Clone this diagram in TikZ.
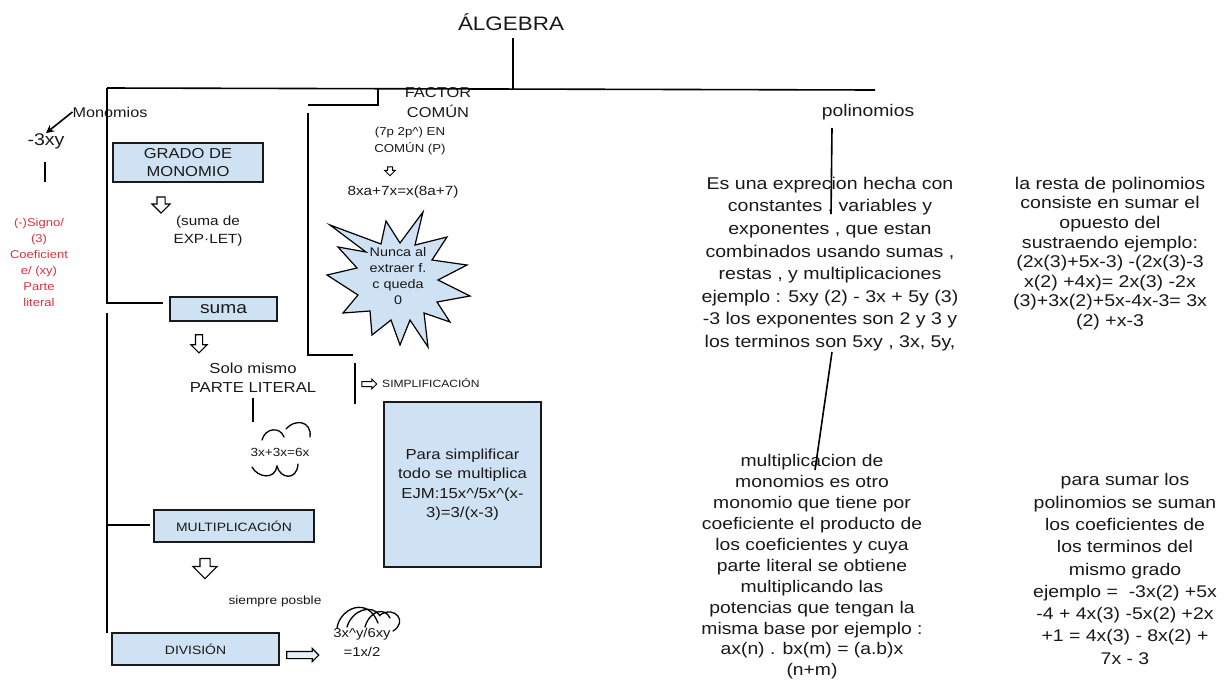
\documentclass[tikz,border=0pt]{standalone}
\usepackage{fontspec}
\setmainfont{Liberation Sans}[FakeStretch=1.15]
\usetikzlibrary{shapes.arrows,arrows.meta}
\definecolor{boxblue}{RGB}{207,226,243}
\definecolor{inkgray}{RGB}{25,25,25}
\definecolor{redtxt}{RGB}{225,50,60}
\newcommand\myfs[2]{\fontsize{#1}{#2}\selectfont}
\begin{document}
\begin{tikzpicture}[x=1pt,y=-1pt,
  txt/.style={inner sep=0pt, align=center, text=inkgray},
  bluebox/.style={draw=inkgray, fill=boxblue, line width=1.6pt, inner sep=0pt, align=center, text=inkgray},
  link/.style={draw=black, line width=1.6pt},
  hollow/.style={single arrow, draw=black, fill=white, line width=1.1pt, inner xsep=0pt, single arrow head indent=0pt},
  curl/.style={draw=black, line width=1.3pt, line cap=round}]
\useasboundingbox (0,0) rectangle (1231,691);
\fill[white] (0,0) rectangle (1231,691);

% ---- title and main branch ----
\node[txt, font=\myfs{19.5}{22}] (title) at (511,22) {ÁLGEBRA};
\coordinate (ttop) at (513,38);
\coordinate (tbot) at (513,89);
\coordinate (hl) at (107,88);
\coordinate (hr) at (875,90);
\draw[link] (ttop) -- (tbot);

% ---- Monomios column ----
\node[txt, font=\myfs{14.1}{17}] (monomios) at (110,112) {Monomios};
\node[txt, font=\myfs{17}{20}] (m3xy) at (46,141) {-3xy};
\draw[link, -{Stealth[length=8pt,width=8pt]}] (monomios.west) -- (m3xy.north);
\coordinate (mla) at (45,162);
\coordinate (mlb) at (45,182);
\draw[link] (mla) -- (mlb);
\node[txt, text=redtxt, font=\myfs{11.3}{16}] (partes) at (39,262) {(-)Signo/\\(3)\\Coeficient\\e/ (xy)\\Parte\\literal};

\node[bluebox, minimum width=150pt, minimum height=39pt, font=\myfs{14.4}{18}] (grado) at (188,162.5) {GRADO DE\\MONOMIO};
\node[hollow, rotate=-90, inner ysep=3.5pt, single arrow head extend=5pt, minimum height=16pt] (ag) at (161,203) {};
\node[txt, font=\myfs{13.3}{18}] (sumade) at (208,231) {(suma de\\EXP·LET)};

\node[bluebox, minimum width=107pt, minimum height=24pt, font=\myfs{16.7}{20}] (suma) at (223.5,309) {suma};
\node[hollow, rotate=-90, inner ysep=3pt, single arrow head extend=4.5pt, minimum height=18pt] (as) at (199,342) {};
\node[txt, font=\myfs{14.5}{19}] (solo) at (253,378) {Solo mismo\\PARTE LITERAL};
\coordinate (sla) at (253,398);
\coordinate (slb) at (253,422);
\draw[link] (sla) -- (slb);
\node[txt, font=\myfs{11.8}{14}] (eq1) at (280,452) {3x+3x=6x};
\draw[curl] (262,440) .. controls (265,428) and (280,426) .. (284,437);
\draw[curl] (286,429) .. controls (294,419) and (312,420) .. (310,437);
\draw[curl] (252,467) .. controls (258,478) and (275,480) .. (277,466);
\draw[curl] (277,466) .. controls (280,479) and (297,481) .. (298,464);

\node[bluebox, minimum width=160pt, minimum height=32pt, font=\myfs{12.1}{15}] (mult) at (234,526) {MULTIPLICACIÓN};
\node[hollow, rotate=-90, inner ysep=4.5pt, single arrow head extend=7pt, minimum height=20pt] (am) at (205,566) {};
\node[txt, font=\myfs{11.9}{14}] (siempre) at (275,601) {siempre posble};
\node[bluebox, minimum width=167pt, minimum height=32pt, font=\myfs{12.1}{15}] (div) at (195.5,649) {DIVISIÓN};
\node[hollow, fill=boxblue!50, inner ysep=3pt, single arrow head extend=3pt, minimum height=32pt] (ad) at (301,655) {};
\node[txt, font=\myfs{12.9}{19}] (eq2) at (362,642) {3x\textasciicircum y/6xy\\=1x/2};
\draw[curl] (337,628) .. controls (340,608) and (368,596) .. (378,623);
\draw[curl] (347,627) .. controls (352,610) and (372,603) .. (380,616);
\draw[curl] (365,627) .. controls (370,610) and (385,607) .. (390,618);
\draw[curl] (380,615) .. controls (395,605) and (408,622) .. (393,631);

% left tree lines
\coordinate (lsum) at (107,303);
\coordinate (lsumend) at (163,303);
\coordinate (l2top) at (107,313);
\coordinate (l2bot) at (107,633);
\coordinate (lmul) at (107,525);
\coordinate (lmulend) at (150,525);
\draw[link] (hl) -- (lsum) -- (lsumend);
\draw[link] (l2top) -- (l2bot);
\draw[link] (lmul) -- (lmulend);

% ---- Factor comun column ----
\node[txt, font=\myfs{14.3}{20}] (factor) at (438,103) {FACTOR\\COMÚN};
\node[txt, font=\myfs{11.5}{17}] (encomun) at (410,141) {(7p 2p\textasciicircum) EN\\COMÚN (P)};
\node[hollow, rotate=-90, inner ysep=2pt, single arrow head extend=3pt, minimum height=9pt, line width=1pt] (af) at (390,170) {};
\node[txt, font=\myfs{13.3}{15}] (feq) at (403,192) {8xa+7x=x(8a+7)};
\draw[draw=black, fill=boxblue, line width=1.2pt, line join=miter]
  (423,212) -- (415,245) -- (447,237) -- (432,260) -- (467,265) -- (438,280) --
  (470,296) -- (437,302) -- (450,322) -- (424,313) -- (428,347) -- (410,320) --
  (400,345) -- (391,320) -- (372,335) -- (370,311) -- (343,313) -- (358,295) --
  (327,275) -- (357,268) -- (338,247) -- (366,252) -- (330,225) -- (381,244) --
  (386,221) -- (400,243) -- cycle;
\node[txt, font=\myfs{12.5}{15.7}] (nunca) at (398,276) {Nunca al\\extraer f.\\c queda\\0};
\coordinate (fa) at (378,88);
\coordinate (fb) at (378,105);
\coordinate (fc) at (308,105);
\coordinate (fd) at (308,113);
\coordinate (fe) at (308,355);
\coordinate (ff) at (353,355);
\draw[link] (fa) -- (fb) -- (fc);
\draw[link] (fd) -- (fe) -- (ff);

\coordinate (sa) at (355,363);
\coordinate (sb) at (355,404);
\draw[link] (sa) -- (sb);
\node[hollow, inner ysep=2pt, single arrow head extend=2.5pt, minimum height=15pt, line width=1pt] (asim) at (368,384) {};
\node[txt, anchor=west, font=\myfs{10.5}{13}] (simpl) at (382,383) {SIMPLIFICACIÓN};
\node[bluebox, minimum width=157pt, minimum height=165pt, font=\myfs{14.5}{19.5}] (simbox) at (462.5,484.5)
  {Para simplificar\\todo se multiplica\\EJM:15x\textasciicircum/5x\textasciicircum(x-\\3)=3/(x-3)};

% main horizontal line over texts
\draw[link] (hl) -- (hr);

% ---- polinomios column ----
\node[txt, font=\myfs{16.8}{20}] (polinomios) at (868,112) {polinomios};
\node[txt, font=\myfs{17}{22.6}] (poldesc) at (830,264)
  {Es una exprecion hecha con\\constantes , variables y\\exponentes , que estan\\combinados usando sumas ,\\restas , y multiplicaciones\\ejemplo : 5xy (2) - 3x + 5y (3)\\-3 los exponentes son 2 y 3 y\\los terminos son 5xy , 3x, 5y,};
\node[txt, font=\myfs{16.8}{20.9}] (multdesc) at (812,567)
  {multiplicacion de\\monomios es otro\\monomio que tiene por\\coeficiente el producto de\\los coeficientes y cuya\\parte literal se obtiene\\multiplicando las\\potencias que tengan la\\misma base por ejemplo :\\ax(n) . bx(m) = (a.b)x\\(n+m)};
\node[txt, font=\myfs{17}{19.6}] (resta) at (1110,253.5)
  {la resta de polinomios\\consiste en sumar el\\opuesto del\\sustraendo ejemplo:\\(2x(3)+5x-3) -(2x(3)-3\\x(2) +4x)= 2x(3) -2x\\(3)+3x(2)+5x-4x-3= 3x\\(2) +x-3};
\node[txt, font=\myfs{16.9}{22.3}] (sumar) at (1125,569)
  {para sumar los\\polinomios se suman\\los coeficientes de\\los terminos del\\mismo grado\\ejemplo =\ \ -3x(2) +5x\\-4 + 4x(3) -5x(2) +2x\\+1 = 4x(3) - 8x(2) +\\7x - 3};
\coordinate (pa) at (832,128);
\coordinate (pb) at (831,214);
\coordinate (pc) at (832,352);
\coordinate (pd) at (815,470);
\draw[link] (pa) -- (pb);
\draw[link] (pc) -- (pd);
\end{tikzpicture}
\end{document}
